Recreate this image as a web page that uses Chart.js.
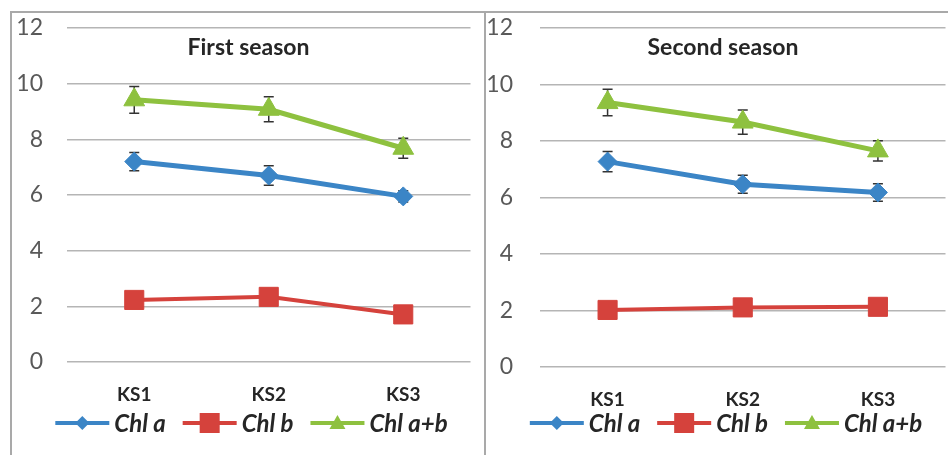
<!DOCTYPE html>
<html>
<head>
<meta charset="utf-8">
<script src="https://cdn.jsdelivr.net/npm/chart.js@4/dist/chart.umd.min.js"></script>
<style>
  html, body { margin: 0; padding: 0; background: #fff; width: 948px; height: 455px; overflow: hidden; }
  #frame { position: absolute; left: 10px; top: 11px; width: 1000px; height: 460px;
           border-left: 2px solid #a9a9a9; border-top: 2px solid #a9a9a9; }
  #divider { position: absolute; left: 484px; top: 11px; width: 2px; height: 450px; background: #a9a9a9; }
  .panel { position: absolute; top: 13px; }
  #p1 { left: 12px; }
  #p2 { left: 486px; }
</style>
</head>
<body>
<div id="frame"></div>
<div id="divider"></div>
<div class="panel" id="p1"><canvas id="c1" width="473" height="442"></canvas></div>
<div class="panel" id="p2"><canvas id="c2" width="474" height="442"></canvas></div>
<script>
// Chlorophyll content of three genotypes in two seasons
const categories = ['KS1', 'KS2', 'KS3'];
const seriesNames = ['Chl a', 'Chl b', 'Chl a+b'];
const yTicks = [0, 2, 4, 6, 8, 10, 12];

const firstChlA = [7.2, 6.7, 5.95];
const firstChlAErr = [0.33, 0.35, 0.2];
const firstChlB = [2.23, 2.34, 1.71];
const firstChlAB = [9.42, 9.08, 7.68];
const firstChlABErr = [0.48, 0.45, 0.36];

const secondChlA = [7.27, 6.47, 6.18];
const secondChlAErr = [0.36, 0.32, 0.31];
const secondChlB = [2.02, 2.11, 2.13];
const secondChlAB = [9.36, 8.67, 7.65];
const secondChlABErr = [0.47, 0.43, 0.36];

const BLUE = '#3b85c6';
const RED = '#d5423c';
const GREEN = '#8ec13f';
const FONT = 'Lato, "Noto Sans", sans-serif';

// Vertical error bars with caps, drawn beneath the markers
const errorBars = {
  id: 'errorBars',
  beforeDatasetsDraw(chart) {
    const { ctx, scales: { x, y } } = chart;
    ctx.save();
    ctx.strokeStyle = '#333333';
    ctx.lineWidth = 1.5;
    chart.data.datasets.forEach(ds => {
      if (!ds.errors) return;
      ds.data.forEach((v, j) => {
        const e = ds.errors[j];
        const px = x.getPixelForValue(j);
        const top = y.getPixelForValue(v + e);
        const bot = y.getPixelForValue(v - e);
        ctx.beginPath();
        ctx.moveTo(px, top); ctx.lineTo(px, bot);
        ctx.moveTo(px - 5, top); ctx.lineTo(px + 5, top);
        ctx.moveTo(px - 5, bot); ctx.lineTo(px + 5, bot);
        ctx.stroke();
      });
    });
    ctx.restore();
  }
};

// Panel heading drawn inside the plot area
const panelTitle = {
  id: 'panelTitle',
  afterDraw(chart, args, opts) {
    const { ctx, width, chartArea } = chart;
    ctx.save();
    ctx.font = 'bold 23px ' + FONT;
    ctx.fillStyle = '#262626';
    ctx.textAlign = 'center';
    ctx.textBaseline = 'middle';
    ctx.fillText(opts.text, width / 2, chartArea.top + opts.offset);
    ctx.restore();
  }
};

// Legend row: a line sample with the series marker, then the italic name
const lineLegend = {
  id: 'lineLegend',
  afterDraw(chart, args, opts) {
    const { ctx, width, height } = chart;
    const sample = 54, gapText = 5, gapItem = 17;
    ctx.save();
    ctx.font = 'italic bold 24px ' + FONT;
    ctx.textBaseline = 'middle';
    const items = chart.data.datasets.map(ds => ({ ds, w: ctx.measureText(ds.label).width }));
    const total = items.reduce((s, it) => s + sample + gapText + it.w, 0) + gapItem * (items.length - 1);
    let x = width / 2 + 3 - total / 2;
    const y = height - opts.bottom;
    items.forEach(({ ds, w }) => {
      const cx = x + sample / 2;
      ctx.strokeStyle = ds.borderColor;
      ctx.fillStyle = ds.borderColor;
      ctx.lineWidth = 4;
      ctx.beginPath(); ctx.moveTo(x, y); ctx.lineTo(x + sample, y); ctx.stroke();
      ctx.beginPath();
      if (ds.pointStyle === 'rectRot') {
        ctx.moveTo(cx, y - 7); ctx.lineTo(cx + 7, y); ctx.lineTo(cx, y + 7); ctx.lineTo(cx - 7, y);
      } else if (ds.pointStyle === 'rect') {
        ctx.rect(cx - 10, y - 10, 20, 20);
      } else {
        ctx.moveTo(cx, y - 8); ctx.lineTo(cx + 8, y + 6); ctx.lineTo(cx - 8, y + 6);
      }
      ctx.closePath(); ctx.fill();
      ctx.fillStyle = '#262626';
      ctx.textAlign = 'left';
      ctx.fillText(ds.label, x + sample + gapText, y + 1);
      x += sample + gapText + w + gapItem;
    });
    ctx.restore();
  }
};

// Keep the plot box exactly where the layout padding puts it
function noScalePadding(scale) {
  scale.paddingTop = 0; scale.paddingBottom = 0; scale.paddingLeft = 0; scale.paddingRight = 0;
}

function makeChart(canvasId, title, chlA, chlAErr, chlB, chlAB, chlABErr, yWidth, yPad, padBottom) {
  return new Chart(document.getElementById(canvasId), {
    type: 'line',
    data: {
      labels: categories,
      datasets: [
        { label: seriesNames[0], data: chlA, errors: chlAErr, borderColor: BLUE, backgroundColor: BLUE,
          borderWidth: 5, pointStyle: 'rectRot', pointRadius: 9.5, pointBorderWidth: 1, order: 3 },
        { label: seriesNames[1], data: chlB, borderColor: RED, backgroundColor: RED,
          borderWidth: 4, pointStyle: 'rect', pointRadius: 13.5, pointBorderWidth: 1, order: 2 },
        { label: seriesNames[2], data: chlAB, errors: chlABErr, borderColor: GREEN, backgroundColor: GREEN,
          borderWidth: 5, pointStyle: 'triangle', pointRadius: 12, pointBorderWidth: 1, order: 1 }
      ]
    },
    options: {
      responsive: false,
      animation: false,
      events: [],
      layout: { padding: { top: 15, left: 0, right: 0, bottom: padBottom } },
      scales: {
        x: {
          type: 'category',
          offset: true,
          grid: { display: false, drawTicks: false },
          border: { display: false },
          ticks: { color: '#262626', font: { family: FONT, size: 19, weight: 'bold' }, padding: 21, maxRotation: 0 },
          afterFit(scale) { scale.height = 46; noScalePadding(scale); }
        },
        y: {
          min: 0, max: 12,
          afterBuildTicks(scale) { scale.ticks = yTicks.map(v => ({ value: v })); },
          grid: { color: '#b5b5b5', lineWidth: 1.5, drawTicks: false },
          border: { display: false },
          ticks: { color: '#595959', font: { family: FONT, size: 23 }, padding: yPad },
          afterFit(scale) { scale.width = yWidth; noScalePadding(scale); }
        }
      },
      plugins: {
        tooltip: { enabled: false },
        legend: { display: false },
        panelTitle: { text: title, offset: 20 },
        lineLegend: { bottom: 32 }
      }
    },
    plugins: [errorBars, panelTitle, lineLegend]
  });
}

makeChart('c1', 'First season', firstChlA, firstChlAErr, firstChlB, firstChlAB, firstChlABErr, 55, 24, 47);
makeChart('c2', 'Second season', secondChlA, secondChlAErr, secondChlB, secondChlAB, secondChlABErr, 54, 27, 42);
</script>
</body>
</html>
